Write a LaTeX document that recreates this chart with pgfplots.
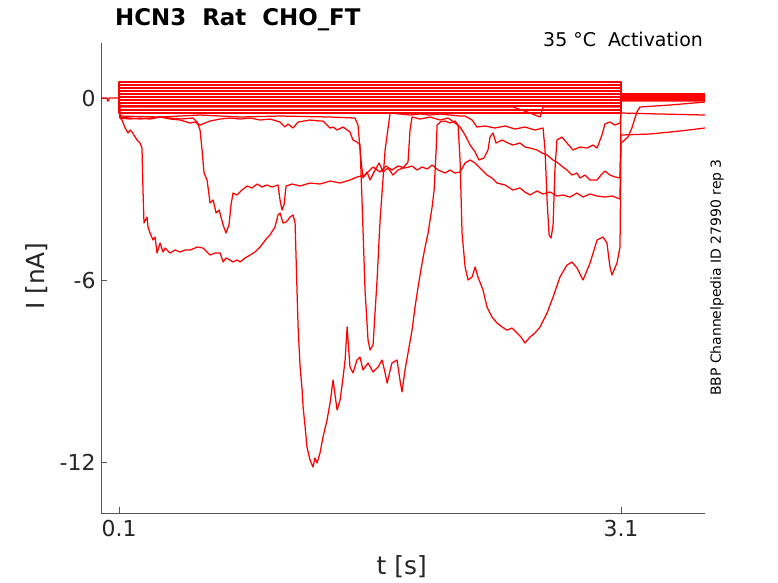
\documentclass[border=0pt]{standalone}
\usepackage{fontspec}
\setmainfont{DejaVu Sans}
\usepackage{pgfplots}
\pgfplotsset{compat=1.18}
\definecolor{axgray}{HTML}{262626}
\definecolor{axline}{HTML}{555555}

\begin{document}
\begin{tikzpicture}
\path[use as bounding box] (0,0) rectangle (778bp,583bp);
\begin{axis}[
  at={(101bp,70bp)}, anchor=south west, scale only axis,
  width=604bp, height=470bp,
  xmin=-0.008, xmax=3.602, ymin=-13.65, ymax=1.81,
  clip mode=individual,
  axis x line*=bottom, axis y line*=left,
  axis line style={draw=axline, line width=0.7bp},
  xtick={0.1,3.1}, xticklabels={0.1,3.1},
  ytick={-12,-6,0}, yticklabels={-12,-6,0},
  tick align=inside, major tick length=6bp,
  tick style={draw=axline, line width=0.7bp},
  ticklabel style={font=\fontsize{22}{24}\selectfont, text=axgray},
  /pgf/number format/assume math mode=true,
  xticklabel style={yshift=-4bp},
  yticklabel style={xshift=-2bp},
  xlabel={t [s]}, ylabel={I [nA]},
  xlabel style={font=\fontsize{25}{28}\selectfont, text=axgray, at={(axis description cs:0.498,-0.115)}, anchor=center},
  ylabel style={font=\fontsize{25}{28}\selectfont, text=axgray, at={(axis description cs:-0.106,0.504)}, anchor=center},
  every axis plot post/.append style={draw=red, color=red, solid, mark=none, line width=1.25bp, line join=round},
]
% pre-step segment
\addplot coordinates {(-0.008,0) (0.028,0) (0.032,-0.10) (0.037,-0.10) (0.040,0) (0.1,0)};
% flat traces
\addplot coordinates {(0.1,0) (0.1,0.526) (3.1,0.526) (3.1,0.066) (3.602,0.066)};
\addplot coordinates {(0.1,0) (0.1,0.428) (3.1,0.428) (3.1,0.099) (3.602,0.099)};
\addplot coordinates {(0.1,0) (0.1,0.329) (3.1,0.329) (3.1,0.050) (3.602,0.050)};
\addplot coordinates {(0.1,0) (0.1,0.230) (3.1,0.230) (3.1,0.016) (3.602,0.016)};
\addplot coordinates {(0.1,0) (0.1,0.132) (3.1,0.132) (3.1,0.130) (3.602,0.130)};
\addplot coordinates {(0.1,0) (0.1,0.033) (3.1,0.033) (3.1,0.0) (3.602,0.0)};
\addplot coordinates {(0.1,0) (0.1,-0.066) (3.1,-0.066) (3.1,-0.016) (3.602,-0.016)};
\addplot coordinates {(0.1,0) (0.1,-0.164) (3.1,-0.164) (3.1,-0.033) (3.602,-0.033)};
\addplot coordinates {(0.1,0) (0.1,-0.263) (3.1,-0.263) (3.1,-0.050) (3.602,-0.050)};
\addplot coordinates {(0.1,0) (0.1,-0.395) (3.1,-0.395) (3.1,0.082) (3.602,0.082)};
\addplot coordinates {(0.1,0) (0.1,-0.493) (3.1,-0.493) (3.1,-0.066) (3.602,-0.066)};
% trace with small dip near 2.6 s
\addplot coordinates {(0.1,0) (0.1,-0.296) (2.454,-0.296) (2.540,-0.460) (2.616,-0.625) (2.634,-0.296) (3.1,-0.296) (3.1,-0.099) (3.602,-0.099)};
% trace A (deep)
\addplot coordinates {
(0.100,0) (0.106,-0.658) (0.118,-0.724) (0.136,-0.987) (0.154,-1.151) (0.166,-1.052) (0.178,-1.118)
(0.196,-1.283) (0.208,-1.381) (0.225,-1.480) (0.237,-1.645) (0.243,-3.026) (0.249,-4.111) (0.267,-3.914)
(0.273,-4.243) (0.285,-4.440) (0.303,-4.670) (0.315,-4.572) (0.327,-5.098) (0.345,-4.769) (0.363,-5.065)
(0.375,-4.934) (0.405,-5.098) (0.435,-4.999) (0.465,-5.065) (0.494,-4.999) (0.524,-4.999) (0.554,-4.934)
(0.566,-4.901) (0.602,-4.934) (0.626,-5.065) (0.644,-5.164) (0.674,-5.098) (0.704,-5.098) (0.722,-5.394)
(0.739,-5.262) (0.763,-5.328) (0.781,-5.394) (0.805,-5.328) (0.823,-5.394) (0.853,-5.262) (0.883,-5.164)
(0.913,-5.065) (0.925,-4.999) (0.943,-4.901) (0.961,-4.769) (0.984,-4.605) (1.002,-4.506) (1.020,-4.342)
(1.032,-4.243) (1.050,-3.848) (1.062,-3.782) (1.080,-4.111) (1.098,-4.078) (1.110,-4.013) (1.122,-3.914)
(1.140,-3.848) (1.152,-4.111) (1.164,-6.414) (1.170,-7.532) (1.182,-8.848) (1.194,-9.604) (1.200,-10.163)
(1.212,-10.821) (1.223,-11.479) (1.241,-11.906) (1.259,-12.137) (1.271,-11.840) (1.283,-12.005) (1.301,-11.676)
(1.319,-11.150) (1.343,-10.591) (1.361,-10.032) (1.379,-9.275) (1.391,-9.768) (1.403,-10.262) (1.421,-9.933)
(1.439,-9.177) (1.451,-8.617) (1.463,-7.532) (1.480,-8.848) (1.498,-9.045) (1.522,-8.617) (1.540,-8.519)
(1.558,-8.946) (1.588,-8.716) (1.618,-9.012) (1.648,-8.848) (1.672,-8.617) (1.690,-9.045) (1.702,-9.374)
(1.731,-8.716) (1.761,-8.617) (1.779,-9.275) (1.791,-9.670) (1.809,-8.946) (1.827,-8.387) (1.851,-7.635)
(1.869,-6.874) (1.887,-6.216) (1.911,-5.427) (1.929,-4.901) (1.947,-4.440) (1.971,-3.585) (1.983,-3.026)
(1.995,-1.710) (2.001,-0.888) (2.019,-0.789) (2.049,-0.756) (2.078,-0.822) (2.108,-0.756) (2.126,-0.888)
(2.138,-2.039) (2.150,-4.440) (2.168,-5.558) (2.186,-5.986) (2.210,-5.887) (2.228,-5.558) (2.245,-5.887)
(2.275,-6.315) (2.299,-6.874) (2.329,-7.203) (2.359,-7.400) (2.389,-7.532) (2.419,-7.635) (2.449,-7.565)
(2.478,-7.730) (2.502,-7.861) (2.526,-8.058) (2.556,-7.861) (2.586,-7.730) (2.616,-7.532) (2.658,-7.071)
(2.694,-6.545) (2.735,-5.887) (2.777,-5.493) (2.807,-5.394) (2.837,-5.591) (2.873,-5.986) (2.915,-5.427)
(2.957,-4.670) (2.992,-4.572) (3.016,-4.769) (3.034,-5.558) (3.046,-5.822) (3.076,-5.427) (3.094,-4.901)
(3.100,-1.480) (3.142,-1.283) (3.165,-0.987) (3.195,-0.460) (3.213,-0.296) (3.393,-0.230) (3.602,-0.132)};
% trace V
\addplot coordinates {
(0.1,0) (0.106,-0.658) (0.166,-0.691) (0.225,-0.658) (0.285,-0.691) (0.345,-0.625) (0.405,-0.691)
(0.465,-0.724) (0.524,-0.822) (0.554,-0.789) (0.584,-0.888) (0.614,-0.822) (0.644,-0.756) (0.704,-0.691)
(0.763,-0.658) (0.823,-0.691) (0.883,-0.658) (0.943,-0.724) (1.002,-0.691) (1.062,-0.789) (1.092,-0.954)
(1.110,-0.855) (1.140,-0.987) (1.170,-0.789) (1.241,-0.724) (1.301,-0.756) (1.319,-0.756) (1.361,-0.987)
(1.379,-0.954) (1.403,-1.052) (1.439,-0.954) (1.480,-1.118) (1.498,-1.381) (1.522,-1.447) (1.540,-1.546)
(1.552,-3.355) (1.570,-6.315) (1.588,-7.960) (1.600,-8.288) (1.618,-8.124) (1.642,-5.986) (1.660,-4.013)
(1.690,-1.710) (1.720,-0.493) (1.779,-0.526) (1.839,-0.559) (1.899,-0.526) (1.959,-0.559) (2.019,-0.526)
(2.078,-0.559) (2.138,-0.592) (2.168,-0.592) (2.210,-0.724) (2.239,-0.954) (2.287,-0.921) (2.347,-0.987)
(2.407,-0.921) (2.467,-1.020) (2.526,-0.954) (2.586,-1.052) (2.634,-0.987) (2.646,-1.710) (2.658,-3.355)
(2.670,-4.506) (2.682,-4.605) (2.694,-4.177) (2.705,-2.368) (2.717,-1.381) (2.747,-1.283) (2.777,-1.480)
(2.813,-1.710) (2.855,-1.612) (2.897,-1.645) (2.933,-1.546) (2.957,-1.645) (2.986,-1.217) (3.004,-0.855)
(3.034,-0.789) (3.064,-0.888) (3.094,-0.822) (3.100,-0.493) (3.333,-0.526) (3.602,-0.559)};
% trace C
\addplot coordinates {
(0.1,0) (0.106,-0.625) (0.225,-0.691) (0.345,-0.625) (0.465,-0.691) (0.542,-0.658) (0.566,-0.789)
(0.584,-1.052) (0.596,-1.710) (0.608,-2.467) (0.626,-2.697) (0.644,-3.453) (0.662,-3.355) (0.680,-3.782)
(0.698,-3.684) (0.722,-4.177) (0.739,-4.440) (0.757,-4.177) (0.769,-3.519) (0.781,-3.125) (0.805,-3.190)
(0.835,-3.026) (0.865,-2.894) (0.895,-2.960) (0.925,-2.829) (0.955,-2.927) (0.984,-2.861) (1.014,-2.927)
(1.050,-2.861) (1.062,-3.355) (1.074,-3.684) (1.086,-3.519) (1.098,-2.894) (1.134,-2.829) (1.182,-2.894)
(1.241,-2.796) (1.301,-2.829) (1.361,-2.730) (1.421,-2.796) (1.480,-2.697) (1.522,-2.598) (1.570,-2.533)
(1.618,-2.269) (1.660,-2.434) (1.696,-2.237) (1.731,-2.368) (1.767,-2.237) (1.809,-2.302) (1.851,-2.237)
(1.881,-2.368) (1.911,-2.269) (1.941,-2.335) (1.971,-2.204) (2.007,-2.368) (2.049,-2.467) (2.078,-2.368)
(2.108,-2.467) (2.138,-2.434) (2.168,-2.138) (2.198,-2.039) (2.228,-2.138) (2.257,-2.302) (2.299,-2.533)
(2.329,-2.631) (2.359,-2.796) (2.407,-2.861) (2.454,-3.026) (2.496,-2.960) (2.526,-3.092) (2.556,-3.190)
(2.598,-3.059) (2.634,-3.157) (2.676,-3.092) (2.717,-3.223) (2.753,-3.190) (2.795,-3.256) (2.837,-3.125)
(2.873,-3.256) (2.915,-3.157) (2.957,-3.223) (3.004,-3.256) (3.046,-3.223) (3.094,-3.322) (3.100,0.033)
(3.602,0.033)};
% trace D
\addplot coordinates {
(0.1,0) (0.106,-0.592) (0.345,-0.625) (0.584,-0.559) (0.823,-0.625) (1.062,-0.592) (1.361,-0.625)
(1.510,-0.658) (1.528,-0.888) (1.546,-2.039) (1.558,-2.631) (1.582,-2.434) (1.600,-2.697) (1.630,-2.368)
(1.654,-2.138) (1.678,-2.434) (1.708,-2.302) (1.737,-2.533) (1.767,-2.368) (1.797,-2.302) (1.827,-2.105)
(1.839,-1.052) (1.851,-0.625) (1.899,-0.691) (1.959,-0.625) (2.019,-0.724) (2.066,-0.658) (2.108,-0.822)
(2.138,-0.954) (2.168,-1.217) (2.198,-1.546) (2.228,-1.776) (2.251,-2.039) (2.281,-1.973) (2.305,-1.710)
(2.317,-1.283) (2.335,-1.151) (2.353,-1.480) (2.389,-1.381) (2.425,-1.480) (2.454,-1.546) (2.496,-1.480)
(2.526,-1.612) (2.556,-1.645) (2.598,-1.710) (2.628,-1.809) (2.658,-1.875) (2.694,-2.039) (2.723,-2.138)
(2.753,-2.269) (2.777,-2.368) (2.807,-2.533) (2.837,-2.467) (2.855,-2.631) (2.885,-2.533) (2.915,-2.697)
(2.957,-2.697) (2.980,-2.533) (3.004,-2.401) (3.034,-2.533) (3.064,-2.598) (3.094,-2.631) (3.100,-1.217)
(3.273,-1.184) (3.453,-1.085) (3.602,-0.987)};
\node[anchor=base west, inner sep=0pt, font=\fontsize{23}{26}\selectfont\bfseries]
  at (axis description cs:0.0232,1.0362) {HCN3\ \ Rat\ \ CHO\_FT};
\node[anchor=base east, inner sep=0pt, font=\fontsize{19}{22}\selectfont]
  at (axis description cs:0.9967,0.9915) {35 °C\ \ Activation};
\node[rotate=90, inner sep=0pt, font=\fontsize{14}{16}\selectfont]
  at (axis description cs:1.0199,0.501) {BBP Channelpedia ID 27990 rep 3};
\end{axis}
\end{tikzpicture}
\end{document}
